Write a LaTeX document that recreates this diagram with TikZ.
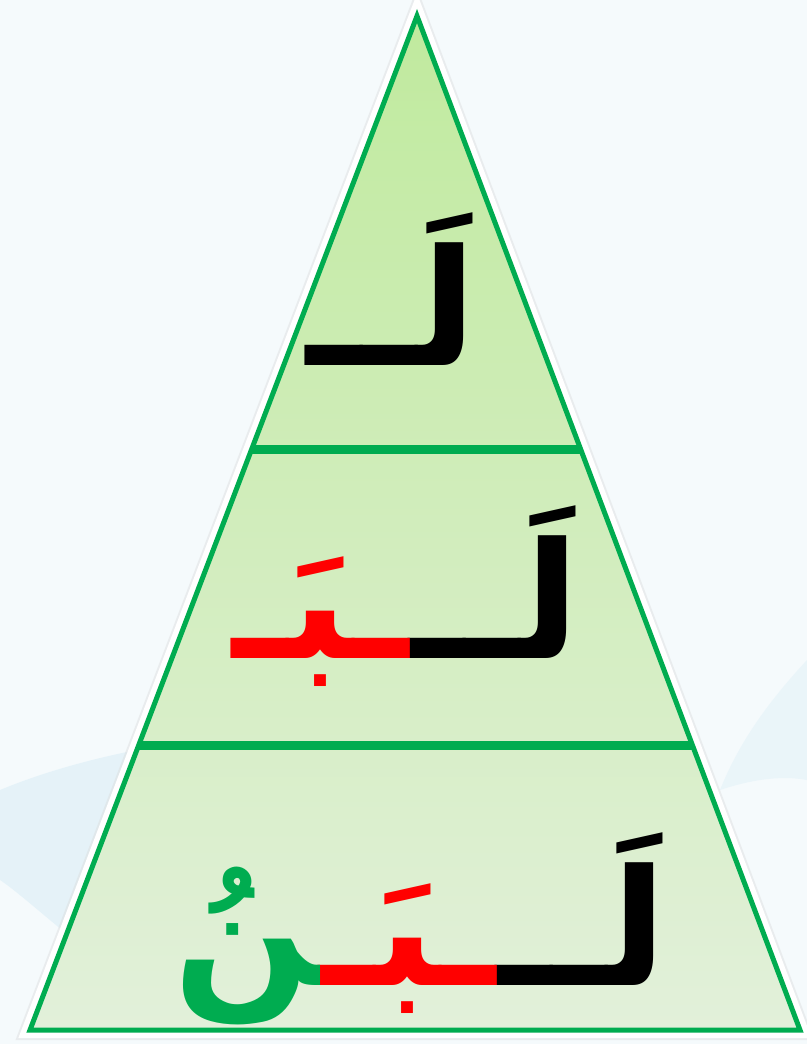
\documentclass[tikz,border=0pt]{standalone}
\usepackage{xcolor}
\usepackage{fontspec}
\usetikzlibrary{positioning, calc}
\TeXXeTstate=1
\newfontfamily\arabicfont[Script=Arabic]{DejaVu Sans}
\definecolor{pyrgreen}{RGB}{0,172,80}
\definecolor{pyrtop}{RGB}{192,234,158}
\definecolor{pyrbottom}{RGB}{226,240,218}
\definecolor{lettred}{RGB}{255,0,0}
\definecolor{skyblue}{RGB}{214,236,246}
\definecolor{paper}{RGB}{245,250,252}
\tikzset{
  letter/.style={inner sep=0pt, font=\arabicfont\bfseries\fontsize{92}{100}\selectfont},
  divider/.style={draw=pyrgreen, line width=0.18cm},
}

\begin{document}
\begin{tikzpicture}[x=0.02cm, y=-0.02cm]
  % background
  \fill[paper] (0,0) rectangle (807,1044);
  \useasboundingbox (0,0) rectangle (807,1044);
  \fill[skyblue, opacity=0.5] (0,790) .. controls (120,740) and (300,720) .. (420,735)
     .. controls (250,780) and (120,860) .. (160,1000) .. controls (90,960) and (30,900) .. (0,880) -- cycle;
  \fill[skyblue, opacity=0.35] (807,660) .. controls (770,700) and (740,740) .. (720,790)
     .. controls (750,780) and (780,775) .. (807,780) -- cycle;

  % pyramid corners
  \coordinate (apex) at (417,16);
  \coordinate (left) at (30,1030);
  \coordinate (right) at (800,1030);

  % outline and fill
  \draw[black!15, line width=0.4cm, line join=miter, opacity=0.4] (apex) -- (left) -- (right) -- cycle;
  \draw[white, line width=0.32cm, line join=miter] (apex) -- (left) -- (right) -- cycle;
  \shade[top color=pyrtop, bottom color=pyrbottom] (apex) -- (left) -- (right) -- cycle;
  \draw[pyrgreen, line width=0.1cm, line join=miter] (apex) -- (left) -- (right) -- cycle;

  % tiers
  \draw[divider] ($(apex)!0.428!(left)$) coordinate (d1l) -- ($(apex)!0.428!(right)$) coordinate (d1r);
  \draw[divider] ($(apex)!0.719!(left)$) coordinate (d2l) -- ($(apex)!0.719!(right)$) coordinate (d2r);

  % top tier
  \node[letter, anchor=base east] (lam1) at (478,365) {\beginR لَــ\endR};

  % middle tier
  \node[letter, anchor=base east] (lam2) at (581,658) {\beginR لَــ\endR};
  \node[letter, anchor=base east, text=lettred] (ba2) at (lam2.base west) {\beginR ـبَـ\endR};

  % bottom tier
  \node[letter, anchor=base east] (lam3) at (668,985) {\beginR لَــ\endR};
  \node[letter, anchor=base east, text=lettred] (ba3) at (lam3.base west) {\beginR ـبَـ\endR};
  \node[letter, anchor=base east, text=pyrgreen] (nun3) at (ba3.base west) {\beginR ^^^^200dنُ\endR};
\end{tikzpicture}
\end{document}
